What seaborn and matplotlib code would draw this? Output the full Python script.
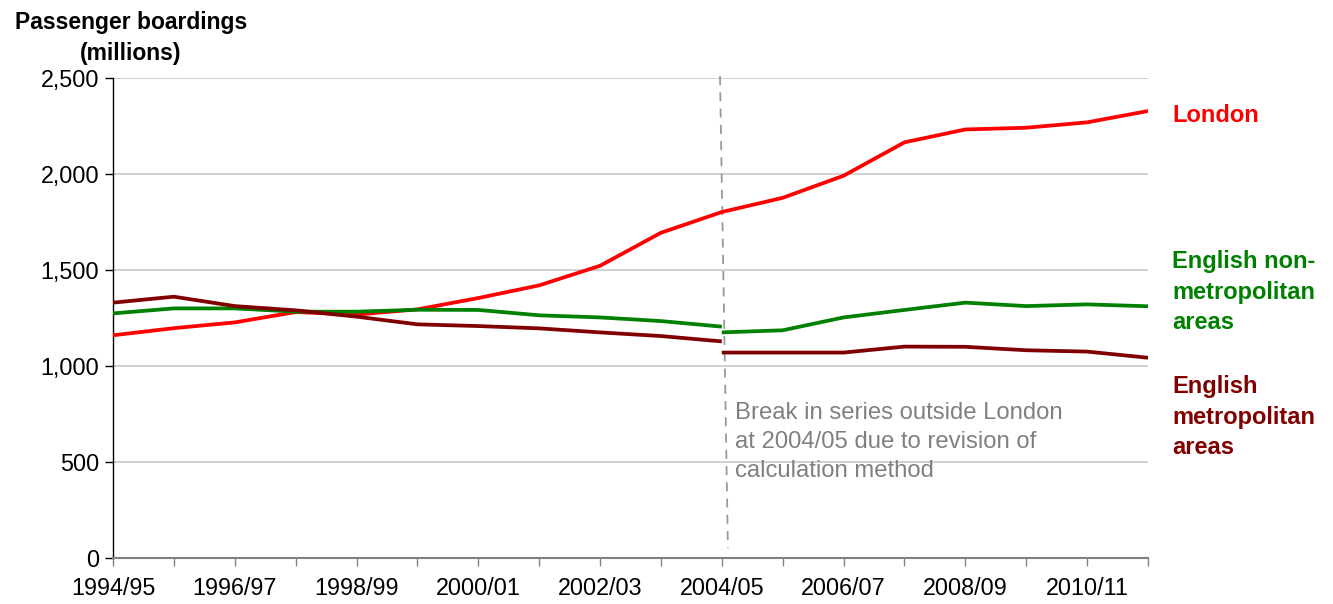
import pandas as pd
import matplotlib
matplotlib.use("Agg")
import matplotlib.pyplot as plt
import seaborn as sns
from matplotlib.ticker import FuncFormatter

# Data (millions of passenger boardings)
years = ["1994/95", "1995/96", "1996/97", "1997/98", "1998/99", "1999/00",
         "2000/01", "2001/02", "2002/03", "2003/04", "2004/05", "2005/06",
         "2006/07", "2007/08", "2008/09", "2009/10", "2010/11", "2011/12"]

london = [1160, 1197, 1227, 1281, 1268, 1295, 1354, 1420, 1522, 1694,
          1802, 1876, 1991, 2165, 2232, 2241, 2269, 2328]

# outside London the series breaks at 2004/05
non_metro_old = [1274, 1300, 1300, 1283, 1283, 1293, 1292, 1264, 1253, 1234, 1205]
non_metro_new = [1175, 1186, 1253, 1292, 1330, 1312, 1321, 1311]
metro_old = [1330, 1361, 1312, 1290, 1257, 1217, 1208, 1196, 1175, 1156, 1128]
metro_new = [1070, 1070, 1070, 1101, 1100, 1082, 1075, 1043]

break_year = "2004/05"
tick_labels = years[::2]

colors = {"London": "#FF0000",
          "English non-metropolitan areas": "#008000",
          "English metropolitan areas": "#800000"}


def main():
    b = years.index(break_year)
    rows = []

    def add(series, segment, start, values):
        for i, v in enumerate(values):
            rows.append({"pos": start + i, "value": v,
                         "series": series, "segment": segment})

    add("London", "london", 0, london)
    add("English non-metropolitan areas", "nm_old", 0, non_metro_old)
    add("English non-metropolitan areas", "nm_new", b, non_metro_new)
    add("English metropolitan areas", "m_old", 0, metro_old)
    add("English metropolitan areas", "m_new", b, metro_new)
    df = pd.DataFrame(rows)

    sns.set_style("white")
    plt.rcParams["font.family"] = ["Liberation Sans", "DejaVu Sans"]
    plt.rcParams["text.color"] = "black"
    plt.rcParams["xtick.color"] = "black"
    plt.rcParams["ytick.color"] = "black"

    fig = plt.figure(figsize=(13.33, 6.04), dpi=100)
    ax = fig.add_axes([113 / 1333, 1 - 558 / 604, 1035 / 1333, 480 / 604])

    ax.yaxis.grid(True, color="#C8C8C8", linewidth=1.2)
    ax.set_axisbelow(True)

    sns.lineplot(data=df, x="pos", y="value", hue="series", units="segment",
                 estimator=None, palette=colors, linewidth=2.7,
                 legend=False, ax=ax, solid_capstyle="butt", zorder=3)

    ax.set_xlim(0, len(years) - 1)
    ax.set_ylim(0, 2500)
    ax.set_yticks(range(0, 2501, 500))
    ax.yaxis.set_major_formatter(FuncFormatter(lambda v, p: f"{int(v):,}"))
    ax.set_xticks(range(len(years)))
    ax.set_xticklabels([y if y in tick_labels else "" for y in years])
    ax.set_xlabel("")
    ax.set_ylabel("")

    for s in ["top", "right"]:
        ax.spines[s].set_visible(False)
    ax.spines["left"].set_color("#000000")
    ax.spines["left"].set_linewidth(1.0)
    ax.spines["bottom"].set_color("#808080")
    ax.spines["bottom"].set_linewidth(1.5)
    ax.tick_params(axis="y", direction="out", length=6, width=1,
                   color="#000000", labelsize=16.8, pad=4, left=True)
    ax.tick_params(axis="x", direction="out", length=6, width=1,
                   color="#808080", labelsize=16.8, pad=8, bottom=True)

    # dashed break marker
    ax.plot([b - 0.03, b + 0.1], [2510, 52], color="#999999",
            linestyle=(0, (5, 4)), linewidth=1.3, clip_on=False, zorder=2)
    ax.text(b + 0.22, 604,
            "Break in series outside London\nat 2004/05 due to revision of\ncalculation method",
            color="#808080", fontsize=17.2, ha="left", va="center", linespacing=1.43)

    # series labels on the right
    xr = len(years) - 1 + 0.4
    ax.text(xr, 2307, "London", color=colors["London"], fontsize=17,
            fontweight="bold", ha="left", va="center", clip_on=False)
    ax.text(xr, 1385, "English non-\nmetropolitan\nareas",
            color=colors["English non-metropolitan areas"], fontsize=17,
            fontweight="bold", ha="left", va="center", linespacing=1.43, clip_on=False)
    ax.text(xr, 734, "English\nmetropolitan\nareas",
            color=colors["English metropolitan areas"], fontsize=17,
            fontweight="bold", ha="left", va="center", linespacing=1.43, clip_on=False)

    fig.text(131 / 1333, 1 - 38 / 604, "Passenger boardings\n(millions)",
             fontsize=16.5, fontweight="bold", ha="center", va="center",
             linespacing=1.4)

    fig.savefig("out.png", dpi=100)
    plt.close(fig)


if __name__ == "__main__":
    main()
